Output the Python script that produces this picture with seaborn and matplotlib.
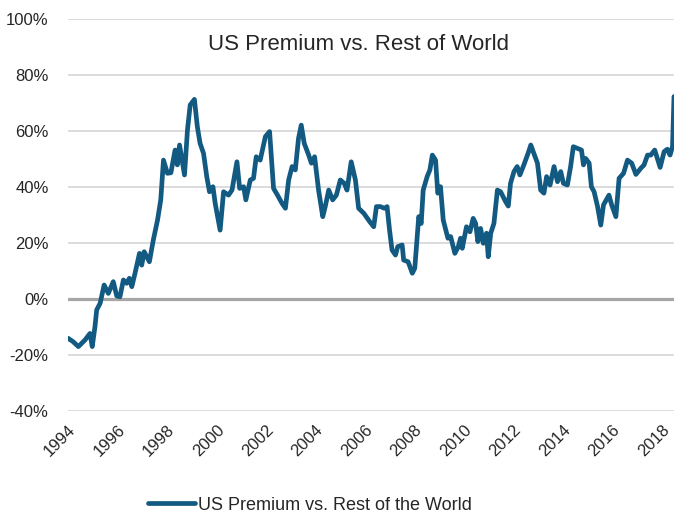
import matplotlib
matplotlib.use('Agg')
import matplotlib.pyplot as plt
import matplotlib.transforms as mtransforms
from matplotlib.ticker import PercentFormatter
import seaborn as sns
import pandas as pd

# Values (decimal year, premium in %)
years = [
    1994.00, 1994.20, 1994.42, 1994.69, 1994.89, 1994.98, 1995.09, 1995.16, 1995.30, 1995.46,
    1995.63, 1995.83, 1995.97, 1996.10, 1996.24, 1996.37, 1996.48, 1996.58, 1996.71, 1996.89,
    1996.98, 1997.08, 1997.29, 1997.45, 1997.62, 1997.75, 1997.86, 1998.02, 1998.16, 1998.33,
    1998.42, 1998.51, 1998.71, 1998.83, 1998.94, 1999.11, 1999.23, 1999.34, 1999.48, 1999.61,
    1999.72, 1999.86, 1999.95, 2000.15, 2000.29, 2000.49, 2000.63, 2000.83, 2000.94, 2001.10,
    2001.19, 2001.37, 2001.50, 2001.61, 2001.77, 2001.98, 2002.15, 2002.31, 2002.47, 2002.65,
    2002.79, 2002.92, 2003.06, 2003.19, 2003.32, 2003.43, 2003.55, 2003.73, 2003.84, 2003.97,
    2004.13, 2004.30, 2004.40, 2004.54, 2004.70, 2004.85, 2005.01, 2005.17, 2005.28, 2005.45,
    2005.62, 2005.75, 2005.96, 2006.20, 2006.36, 2006.47, 2006.63, 2006.79, 2006.90, 2007.00,
    2007.10, 2007.24, 2007.33, 2007.51, 2007.57, 2007.75, 2007.92, 2008.02, 2008.12, 2008.18,
    2008.28, 2008.36, 2008.52, 2008.63, 2008.73, 2008.86, 2008.95, 2009.06, 2009.17, 2009.36,
    2009.47, 2009.64, 2009.78, 2009.87, 2009.94, 2010.11, 2010.25, 2010.38, 2010.48, 2010.57,
    2010.68, 2010.79, 2010.92, 2010.99, 2011.09, 2011.22, 2011.36, 2011.49, 2011.69, 2011.80,
    2011.89, 2012.03, 2012.16, 2012.27, 2012.43, 2012.60, 2012.71, 2012.98, 2013.11, 2013.24,
    2013.35, 2013.49, 2013.65, 2013.79, 2013.92, 2014.03, 2014.19, 2014.32, 2014.43, 2014.60,
    2014.76, 2014.84, 2014.93, 2015.07, 2015.16, 2015.27, 2015.41, 2015.54, 2015.65, 2015.87,
    2015.98, 2016.15, 2016.28, 2016.46, 2016.62, 2016.79, 2016.96, 2017.16, 2017.29, 2017.43,
    2017.56, 2017.72, 2017.94, 2018.10, 2018.23, 2018.34, 2018.44, 2018.50,
]
premium = [
    -14.0, -15.2, -17.0, -14.6, -12.3, -17.0, -9.9, -3.9, -1.5, 5.0,
    2.0, 6.2, 1.1, 0.8, 6.8, 5.6, 7.4, 4.4, 9.2, 16.3,
    12.1, 16.9, 13.3, 21.1, 28.2, 35.4, 49.6, 44.9, 45.1, 53.2,
    47.9, 55.0, 44.3, 60.4, 69.3, 71.3, 61.5, 55.6, 52.0, 43.7,
    38.3, 40.1, 34.2, 24.6, 38.3, 37.1, 38.9, 49.0, 39.5, 40.1,
    35.4, 42.5, 43.1, 50.8, 49.6, 58.0, 59.8, 39.5, 37.1, 34.2,
    32.4, 42.5, 47.3, 46.1, 57.4, 62.1, 55.6, 51.4, 48.5, 50.8,
    38.9, 29.4, 33.0, 38.9, 35.4, 37.1, 42.5, 41.3, 38.9, 49.0,
    42.5, 32.4, 30.6, 27.6, 25.8, 33.0, 33.0, 32.4, 33.0, 24.6,
    17.5, 15.7, 18.7, 19.3, 13.9, 13.3, 9.2, 11.0, 22.3, 29.4,
    27.0, 38.9, 43.7, 46.1, 51.4, 49.6, 37.8, 40.1, 28.2, 21.7,
    22.3, 16.3, 18.7, 21.7, 18.1, 25.8, 24.0, 28.8, 27.0, 20.5,
    25.2, 19.9, 23.5, 15.1, 23.5, 27.0, 38.9, 38.3, 34.8, 33.2,
    41.3, 45.5, 47.3, 44.3, 47.9, 52.0, 55.0, 48.5, 38.9, 37.8,
    43.7, 40.7, 47.3, 41.9, 45.5, 41.3, 40.7, 47.3, 54.4, 53.8,
    53.2, 47.9, 50.2, 48.5, 40.1, 38.3, 33.0, 26.4, 33.6, 37.1,
    33.6, 29.4, 43.1, 44.9, 49.6, 48.5, 44.5, 46.7, 47.9, 51.4,
    51.4, 53.2, 47.0, 52.6, 53.5, 51.4, 54.4, 72.3,
]
year_ticks = list(range(1994, 2019, 2))
series_name = 'US Premium vs. Rest of the World'

df = pd.DataFrame({'year': years, 'premium': premium})

sns.set_style('white')
plt.rcParams['font.family'] = ['Liberation Sans', 'DejaVu Sans']
plt.rcParams['axes.unicode_minus'] = False

fig = plt.figure(figsize=(6.74, 5.15), dpi=100)
ax = fig.add_axes([68 / 674, 1 - 411 / 515, 606 / 674, 392 / 515])

ax.axhline(0, color='#A6A6A6', lw=2.3, zorder=1)
sns.lineplot(data=df, x='year', y='premium', ax=ax, color='#135A82', lw=3.4,
             label=series_name, legend=False, zorder=3)

ax.set_xlim(1994, 2018.5)
ax.set_ylim(-40, 100)
ax.set_yticks(range(-40, 101, 20))
ax.yaxis.set_major_formatter(PercentFormatter(decimals=0))
ax.set_xticks(year_ticks)
ax.set_xticklabels([str(y) for y in year_ticks], rotation=45, ha='right',
                   rotation_mode='anchor')
offset = mtransforms.ScaledTranslation(7 / 100, 0, fig.dpi_scale_trans)
for lbl in ax.get_xticklabels():
    lbl.set_transform(lbl.get_transform() + offset)

ax.grid(axis='y', color='#D9D9D9', lw=1.3, zorder=0)
ax.grid(axis='x', visible=False)
ax.tick_params(axis='y', length=0, pad=14, labelsize=12)
ax.tick_params(axis='x', length=0, pad=8, labelsize=12)
ax.set_xlabel('')
ax.set_ylabel('')
sns.despine(ax=ax, left=True, bottom=True, top=True, right=True)

fig.text(358 / 674, 1 - 44 / 515, 'US Premium vs. Rest of World', ha='center',
         va='center', fontsize=16)

handles, labels = ax.get_legend_handles_labels()
fig.legend(handles, labels, loc='center', bbox_to_anchor=(310 / 674, 1 - 505 / 515),
           frameon=False, fontsize=13, handlelength=2.6, handletextpad=0.15)

fig.savefig('out.png', dpi=100)
